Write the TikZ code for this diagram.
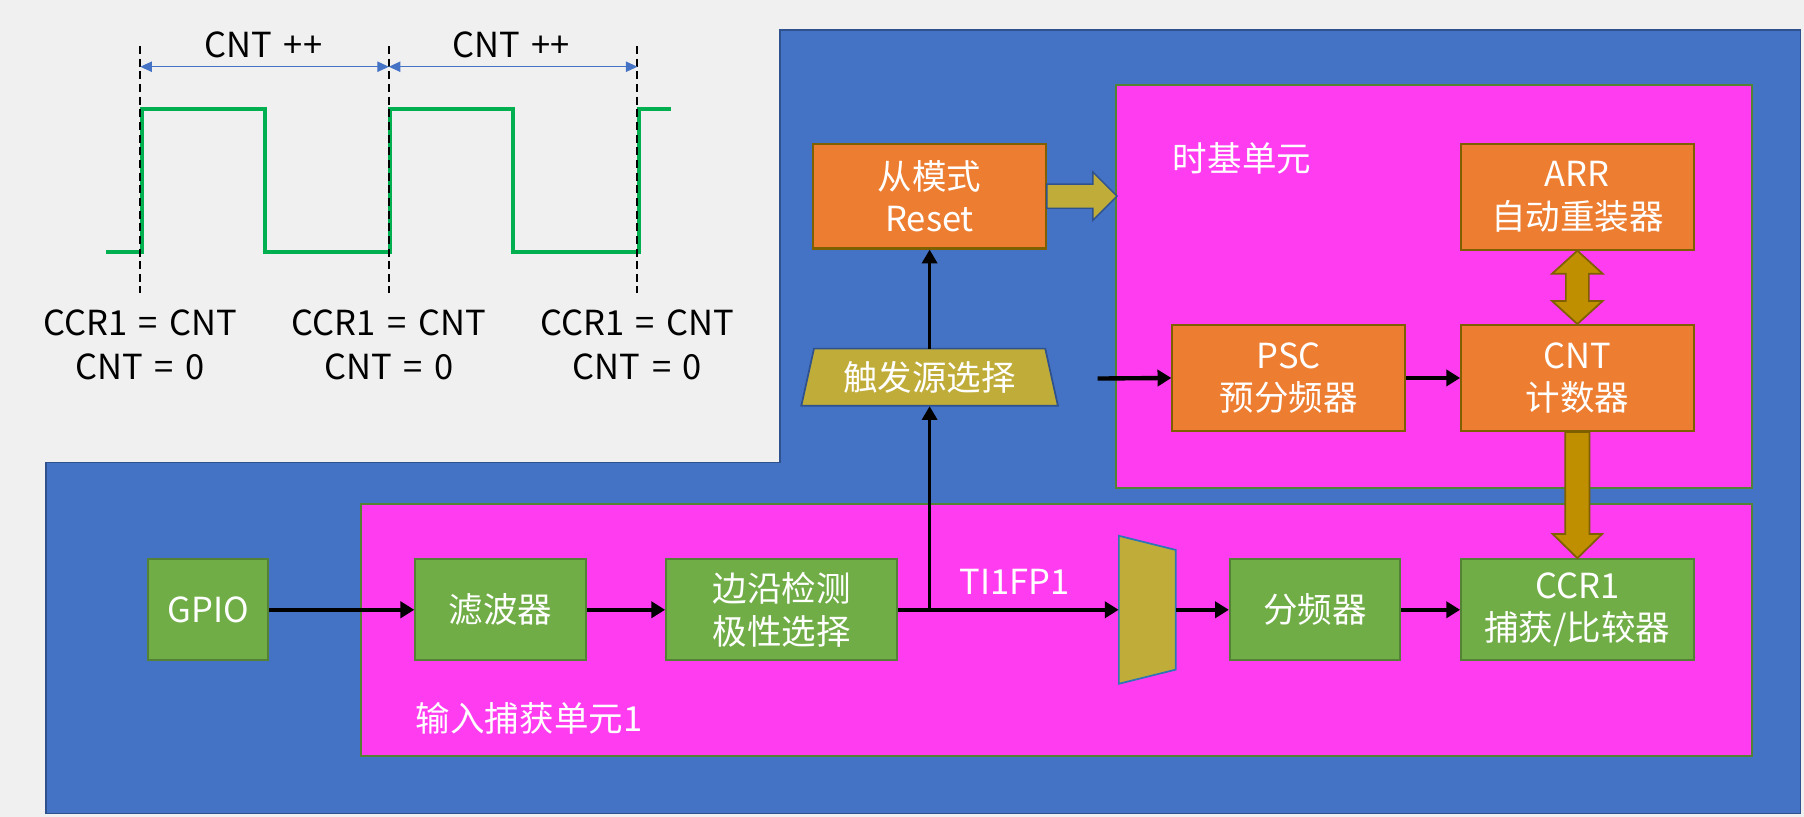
\documentclass[tikz,border=0pt]{standalone}
\usepackage{fontspec}
\setmainfont{Noto Sans CJK SC}
\newfontfamily\wavefont{Noto Sans CJK SC}[WordSpace=1.5]
\usetikzlibrary{arrows.meta,calc}
\definecolor{bgc}{HTML}{F0F0F0}
\definecolor{blueA}{HTML}{4472C4}
\definecolor{blueB}{HTML}{2F528F}
\definecolor{mag}{HTML}{FF3CF0}
\definecolor{magB}{HTML}{548235}
\definecolor{orA}{HTML}{ED7D31}
\definecolor{orB}{HTML}{7F6000}
\definecolor{grA}{HTML}{70AD47}
\definecolor{grB}{HTML}{538135}
\definecolor{olive}{HTML}{C0AD39}
\definecolor{gold}{HTML}{BF8F00}
\definecolor{wave}{HTML}{00B050}
\definecolor{trapB}{HTML}{2E75B6}
\tikzset{
  txt/.style={font=\fontsize{30}{37}\selectfont},
  wtxt/.style={font=\wavefont\fontsize{30}{38}\selectfont},
  obox/.style={txt,draw=orB,line width=1.8pt,fill=orA,text=white,inner sep=0pt,align=center},
  gbox/.style={txt,draw=grB,line width=1.8pt,fill=grA,text=white,inner sep=0pt,align=center},
  conn/.style={line width=3.8pt,-{Triangle[length=12pt,width=14pt]}},
  vconn/.style={line width=3.2pt,-{Triangle[length=12pt,width=13pt]}},
  goldarrow/.style={fill=gold,draw=orB,line width=1.5pt},
  olivearrow/.style={fill=olive,draw=blueB,line width=1.2pt},
  dim/.style={blueA,line width=1pt,{Triangle[length=10pt,width=9pt]}-{Triangle[length=10pt,width=9pt]}},
  vdash/.style={black,line width=1.6pt,dash pattern=on 7pt off 4pt}
}
\begin{document}
\begin{tikzpicture}[x=1pt,y=-1pt]
\useasboundingbox (0,0) rectangle (1568,710);
\fill[bgc] (0,0) rectangle (1568,710);
% blue L-shaped area
\draw[fill=blueA,draw=blueB,line width=1.5pt] (678,26) -- (1565,26) -- (1565,707) -- (40,707) -- (40,402) -- (678,402) -- cycle;
% magenta units
\draw[fill=mag,draw=magB,line width=1.5pt] (970,74) rectangle (1523,424);
\draw[fill=mag,draw=magB,line width=1.5pt] (314,438) rectangle (1523,657);
\node[txt,text=white,anchor=west] (tbl) at (1016,138) {时基单元};
\node[txt,text=white,anchor=west] (icl) at (358,624) {输入捕获单元1};
% waveform
\draw[wave,line width=3.5pt] (92,219) -- (123,219) -- (123,95) -- (230,95) -- (230,219) -- (339,219) -- (339,95) -- (446,95) -- (446,219) -- (555,219) -- (555,95) -- (583,95);
\foreach \xx in {122,338,554} \draw[vdash] (\xx,40) -- (\xx,255);
\draw[dim] (122,58) -- (338,58);
\draw[dim] (338,58) -- (554,58);
\node[wtxt] (cp1) at (229,39) {CNT ++};
\node[wtxt] (cp2) at (444,39) {CNT ++};
\node[wtxt,align=center] (l1) at (122,300) {CCR1 = CNT\\CNT = 0};
\node[wtxt,align=center] (l2) at (338,300) {CCR1 = CNT\\CNT = 0};
\node[wtxt,align=center] (l3) at (554,300) {CCR1 = CNT\\CNT = 0};
% boxes
\node[obox,minimum width=202pt,minimum height=91pt] (slave) at (808,170.5) {从模式\\Reset};
\node[obox,minimum width=202pt,minimum height=92pt] (arr) at (1371,171) {ARR\\自动重装器};
\node[obox,minimum width=202pt,minimum height=92pt] (psc) at (1120,328.5) {PSC\\预分频器};
\node[obox,minimum width=202pt,minimum height=92pt] (cnt) at (1371,328.5) {CNT\\计数器};
\node[gbox,minimum width=104pt,minimum height=88pt] (gpio) at (181,530) {GPIO};
\node[gbox,minimum width=148pt,minimum height=88pt] (filt) at (435,530) {滤波器};
\node[gbox,minimum width=201pt,minimum height=88pt] (edge) at (679.5,530) {边沿检测\\极性选择};
\node[gbox,minimum width=148pt,minimum height=88pt] (div) at (1143,530) {分频器};
\node[gbox,minimum width=202pt,minimum height=88pt] (ccr) at (1371,530) {CCR1\\捕获/比较器};
% trigger source trapezoid
\coordinate (trigc) at (808,328);
\draw[fill=olive,draw=blueB,line width=1.5pt] ($(trigc)+(-100.5,-25)$) -- ($(trigc)+(100.5,-25)$) -- ($(trigc)+(111.5,24.6)$) -- ($(trigc)+(-111.5,24.6)$) -- cycle;
\node[txt,text=white,minimum width=223pt,minimum height=49.6pt,inner sep=0pt] (trig) at (trigc) {触发源选择};
% mux trapezoid
\coordinate (muxc) at (997.25,530);
\draw[fill=olive,draw=trapB,line width=1.5pt] ($(muxc)+(-24.75,-64.3)$) -- ($(muxc)+(24.75,-52)$) -- ($(muxc)+(24.75,52)$) -- ($(muxc)+(-24.75,64.3)$) -- cycle;
\node[minimum width=49.5pt,minimum height=128.6pt,inner sep=0pt] (mux) at (muxc) {};
\node[txt,text=white] (ti) at (882,506) {TI1FP1};
% connectors
\coordinate (tap) at (808,530);
\coordinate (pscin) at (954,329);
\draw[conn] (gpio.east) -- (filt.west);
\draw[conn] (filt.east) -- (edge.west);
\draw[conn] (edge.east) -- (mux.west);
\draw[conn] (mux.east) -- (div.west);
\draw[conn] (div.east) -- (ccr.west);
\draw[vconn] (tap) -- (trig.south);
\draw[vconn] (trig.north) -- (slave.south);
\draw[conn] (pscin) -- (psc.west);
\draw[conn] (psc.east) -- (cnt.west);
% block arrows
\draw[olivearrow] ($(slave.east)+(0,-10.5)$) -- ($(slave.east)+(40,-10.5)$) -- ($(slave.east)+(40,-21)$) -- ($(slave.east)+(61,0)$) -- ($(slave.east)+(40,21)$) -- ($(slave.east)+(40,10.5)$) -- ($(slave.east)+(0,10.5)$) -- cycle;
\draw[goldarrow] (arr.south) -- ($(arr.south)+(22,20)$) -- ($(arr.south)+(10,20)$) -- ($(cnt.north)+(10,-20)$) -- ($(cnt.north)+(22,-20)$) -- (cnt.north) -- ($(cnt.north)+(-22,-20)$) -- ($(cnt.north)+(-10,-20)$) -- ($(arr.south)+(-10,20)$) -- ($(arr.south)+(-22,20)$) -- cycle;
\draw[goldarrow] ($(cnt.south)+(-10.5,0)$) -- ($(cnt.south)+(10.5,0)$) -- ($(ccr.north)+(10.5,-21)$) -- ($(ccr.north)+(21.5,-21)$) -- (ccr.north) -- ($(ccr.north)+(-21.5,-21)$) -- ($(ccr.north)+(-10.5,-21)$) -- cycle;
\end{tikzpicture}
\end{document}
